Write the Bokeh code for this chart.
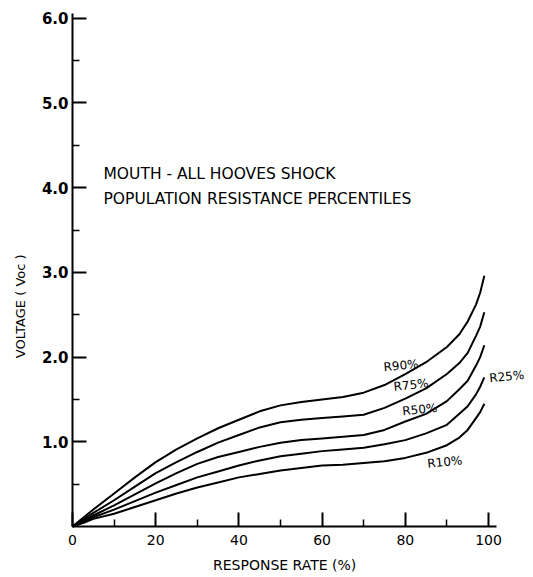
import math
from bokeh.plotting import figure
from bokeh.models import FixedTicker, Label, Range1d
from bokeh.embed import file_html
from bokeh.resources import INLINE

# ---- data ----
response_rate = [0, 3, 5, 10, 15, 20, 25, 30, 35, 40, 45, 50, 55, 60, 65, 70, 75, 80, 85, 90, 93, 95, 97, 98, 99]
r90 = [0, 0.12, 0.20, 0.39, 0.58, 0.76, 0.91, 1.04, 1.16, 1.26, 1.36, 1.43, 1.47, 1.50, 1.53, 1.58, 1.67, 1.80, 1.94, 2.12, 2.27, 2.42, 2.62, 2.76, 2.96]
r75 = [0, 0.10, 0.16, 0.31, 0.47, 0.63, 0.76, 0.88, 0.99, 1.08, 1.17, 1.23, 1.26, 1.28, 1.30, 1.32, 1.40, 1.51, 1.63, 1.80, 1.93, 2.05, 2.25, 2.36, 2.53]
r50 = [0, 0.08, 0.13, 0.25, 0.38, 0.51, 0.63, 0.74, 0.82, 0.88, 0.94, 0.99, 1.02, 1.04, 1.06, 1.08, 1.14, 1.24, 1.33, 1.48, 1.62, 1.72, 1.90, 2.00, 2.14]
r25 = [0, 0.07, 0.11, 0.20, 0.30, 0.40, 0.49, 0.58, 0.65, 0.72, 0.78, 0.83, 0.86, 0.89, 0.91, 0.93, 0.97, 1.02, 1.10, 1.20, 1.33, 1.42, 1.56, 1.65, 1.76]
r10 = [0, 0.05, 0.09, 0.15, 0.23, 0.31, 0.39, 0.46, 0.52, 0.58, 0.62, 0.66, 0.69, 0.72, 0.73, 0.75, 0.77, 0.81, 0.87, 0.96, 1.05, 1.14, 1.28, 1.35, 1.45]
series = [r90, r75, r50, r25, r10]

curve_labels = ["R90%", "R75%", "R50%", "R25%", "R10%"]
curve_label_x = [74.8, 77.2, 79.3, 100.2, 85.3]
curve_label_y = [1.88, 1.65, 1.36, 1.75, 0.74]

x_ticks = [0, 20, 40, 60, 80, 100]
x_minor = [10, 30, 50, 70, 90]
x_tick_labels = ["0", "20", "40", "60", "80", "100"]
y_ticks = [1, 2, 3, 4, 5, 6]
y_minor = [0.5, 1.5, 2.5, 3.5, 4.5, 5.5]
y_tick_labels = ["1.0", "2.0", "3.0", "4.0", "5.0", "6.0"]

note_lines = ["MOUTH - ALL HOOVES SHOCK", "POPULATION RESISTANCE PERCENTILES"]
note_x = 7.45
note_y = [4.16, 3.87]

x_title = "RESPONSE RATE (%)"
y_title = "VOLTAGE ( Voc )"

FONT = "DejaVu Sans"

p = figure(width=533, height=577, output_backend="svg", toolbar_location=None,
           x_range=Range1d(-17.31, 110.82), y_range=Range1d(-0.602, 6.210),
           min_border_left=0, min_border_right=0, min_border_top=0, min_border_bottom=0)
p.outline_line_color = None
p.grid.visible = False
p.background_fill_color = "white"
p.border_fill_color = "white"

for ys in series:
    p.line(response_rate, ys, line_color="black", line_width=2, line_join="round")

for t, lx, ly in zip(curve_labels, curve_label_x, curve_label_y):
    p.add_layout(Label(x=lx, y=ly, text=t, text_font=FONT, text_font_size="12px",
                       text_color="black", text_align="left", text_baseline="middle",
                       angle=0.1))

for t, ny in zip(note_lines, note_y):
    p.add_layout(Label(x=note_x, y=ny, text=t, text_font=FONT, text_font_size="15.5px",
                       text_color="black", text_align="left", text_baseline="middle"))

# axes placed at the origin
xa = p.xaxis[0]
xa.fixed_location = 0
xa.bounds = (0, 102)
xa.ticker = FixedTicker(ticks=x_ticks, minor_ticks=x_minor)
xa.major_label_overrides = {t: l for t, l in zip(x_ticks, x_tick_labels)}
ya = p.yaxis[0]
ya.fixed_location = 0
ya.bounds = (0, 6.06)
ya.ticker = FixedTicker(ticks=y_ticks, minor_ticks=y_minor)
ya.major_label_overrides = {t: l for t, l in zip(y_ticks, y_tick_labels)}

for ax in (xa, ya):
    ax.axis_line_width = 2
    ax.axis_line_color = "black"
    ax.major_tick_in = 14
    ax.major_tick_out = 0
    ax.minor_tick_in = 7
    ax.minor_tick_out = 0
    ax.major_tick_line_width = 2
    ax.minor_tick_line_width = 1.5
    ax.major_tick_line_color = "black"
    ax.minor_tick_line_color = "black"
    ax.major_label_text_font = FONT
    ax.major_label_text_color = "black"

xa.major_label_text_font_size = "14px"
xa.major_label_standoff = 8
ya.major_label_text_font_size = "15px"
ya.major_label_text_font_style = "bold"
ya.major_label_standoff = 4

p.add_layout(Label(x=51, y=-0.46, text=x_title, text_font=FONT, text_font_size="14px",
                   text_color="black", text_align="center", text_baseline="middle"))
p.add_layout(Label(x=-12.5, y=2.6, text=y_title, text_font=FONT, text_font_size="13px",
                   text_color="black", text_align="center", text_baseline="middle",
                   angle=math.pi / 2))

open("out.html", "w").write(file_html(p, INLINE))
